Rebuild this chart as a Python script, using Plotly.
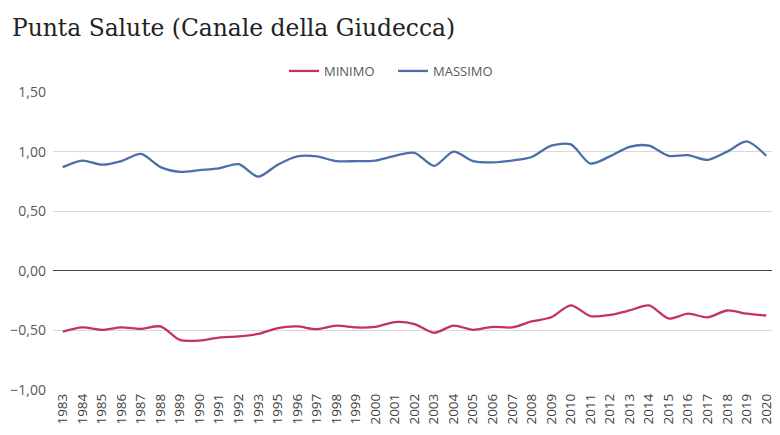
import plotly.graph_objects as go

# anni (il 1994 manca nella serie originale)
anni = [str(a) for a in range(1983, 1994)] + [str(a) for a in range(1995, 2021)]

massimo = [0.87, 0.925, 0.89, 0.92, 0.98, 0.87, 0.83, 0.845, 0.86, 0.895, 0.79,
           0.89, 0.96, 0.96, 0.92, 0.92, 0.925, 0.965, 0.99, 0.88, 1.00, 0.92,
           0.91, 0.925, 0.955, 1.05, 1.06, 0.90, 0.96, 1.04, 1.05, 0.965, 0.97,
           0.93, 1.00, 1.085, 0.965]

minimo = [-0.51, -0.475, -0.495, -0.475, -0.487, -0.467, -0.58, -0.585, -0.56, -0.55, -0.53,
          -0.48, -0.467, -0.49, -0.46, -0.475, -0.47, -0.43, -0.447, -0.52, -0.46, -0.495,
          -0.47, -0.475, -0.425, -0.39, -0.29, -0.38, -0.37, -0.333, -0.29, -0.40, -0.36,
          -0.39, -0.333, -0.36, -0.375]

y_ticks = [-1.0, -0.5, 0.0, 0.5, 1.0, 1.5]

# la pagina html ha un margine di 8px: figura un po' più piccola
W, H = 772, 427

fig = go.Figure()

fig.add_trace(go.Scatter(x=anni, y=minimo, name="MINIMO", mode="lines",
                         line=dict(color="#c4345a", width=2.3, shape="spline", smoothing=0.8)))
fig.add_trace(go.Scatter(x=anni, y=massimo, name="MASSIMO", mode="lines",
                         line=dict(color="#4a6faa", width=2.3, shape="spline", smoothing=0.8)))

fig.update_layout(
    width=W, height=H,
    paper_bgcolor="white", plot_bgcolor="white",
    separators=",.",
    margin=dict(l=45, r=4, t=84, b=45),
    title=dict(text="Punta Salute (Canale della Giudecca)",
               font=dict(family="DejaVu Serif", size=23.4, color="#222222"),
               xref="container", x=4/W, xanchor="left",
               yref="container", y=1 - 12/H, yanchor="top"),
    legend=dict(orientation="h", xref="container", x=276/W, xanchor="left",
                yref="container", y=1 - 48/H, yanchor="top",
                font=dict(family="Open Sans", size=13, color="#595959"),
                itemwidth=30, entrywidth=64, traceorder="normal"),
    showlegend=True,
)

fig.update_xaxes(type="category", range=[-0.5, len(anni) - 0.5],
                 tickangle=-90, showgrid=False, showline=False,
                 automargin=False, ticks="",
                 tickfont=dict(family="Open Sans", size=13.5, color="#404040"))
fig.update_yaxes(range=[-1.0, 1.5], tickvals=y_ticks, tickformat=".2f",
                 showgrid=True, gridcolor="#d9d9d9", gridwidth=1,
                 zeroline=True, zerolinecolor="#404040", zerolinewidth=1,
                 automargin=False, ticks="", ticklabelstandoff=6,
                 tickfont=dict(family="Open Sans", size=14, color="#595959"))

fig.write_html("out.html")
